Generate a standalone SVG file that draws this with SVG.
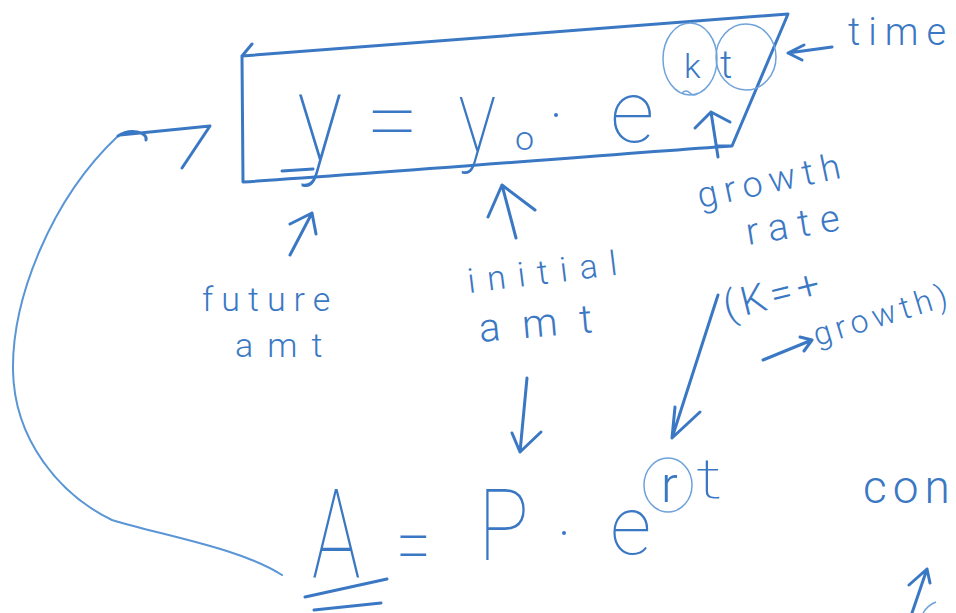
<svg xmlns="http://www.w3.org/2000/svg" width="956" height="613" viewBox="0 0 956 613">
<style>
.ink{fill:none;stroke:#3b78c4;stroke-width:3;stroke-linecap:round;stroke-linejoin:round}
.faint{fill:none;stroke:#6fa3da;stroke-width:1.5}
.curve{fill:none;stroke:#5a95d5;stroke-width:2;stroke-linecap:round}
.t{font-family:Roboto,"DejaVu Sans","Liberation Sans",sans-serif;font-weight:300;fill:#3b78c4}
.big{font-weight:100}
</style>
<rect width="956" height="613" fill="#ffffff"/>

<g id="formula-box">
  <path class="ink" d="M242,56 L788,14 L732,146 L716,146 M732,146 C600,155 400,172 243,182 L242,56 M242,56 L252,44"/>
  <text class="t big" font-size="95" transform="translate(297,160) scale(1,1.3)">y</text>
  <path class="ink" d="M282,171 L313,169"/>
  <text class="t big" font-size="95" x="366" y="152">=</text>
  <text class="t big" font-size="80" transform="translate(458,152) scale(1,1.3)">y</text>
  <text class="t" font-size="34" x="515" y="150">o</text>
  <circle cx="556" cy="115" r="2" fill="#3b78c4"/>
  <text class="t big" font-size="88" x="610" y="142">e</text>
  <text class="t" font-size="34" x="684" y="78">k</text>
  <text class="t" font-size="38" x="720" y="78">t</text>
  <ellipse class="faint" cx="690" cy="59" rx="27" ry="36"/>
  <ellipse class="faint" cx="746" cy="57" rx="30" ry="33"/>
  <path class="faint" d="M682,93 q4,-4 8,0 t8,0"/>
</g>

<g id="label-time">
  <text class="t" font-size="38" letter-spacing="8" x="848" y="45">time</text>
</g>

<g id="label-growth-rate">
  <text class="t" font-size="36" letter-spacing="7" transform="translate(700,208) rotate(-12)">growth</text>
  <text class="t" font-size="38" letter-spacing="10" transform="translate(748,245) rotate(-9)">rate</text>
  <text class="t" font-size="40" letter-spacing="5" transform="translate(727,320) rotate(-14)">(K=+</text>
  <text class="t" font-size="32" letter-spacing="5" transform="translate(817,346) rotate(-17)">growth)</text>
</g>

<g id="label-future-amt">
  <text class="t" font-size="34" letter-spacing="8" x="202" y="311">future</text>
  <text class="t" font-size="34" letter-spacing="14" x="235" y="357">amt</text>
</g>

<g id="label-initial-amt">
  <text class="t" font-size="34" letter-spacing="12" transform="translate(469,293) rotate(-7)">initial</text>
  <text class="t" font-size="40" letter-spacing="22" transform="translate(480,342) rotate(-5)">amt</text>
</g>

<g id="formula-bottom">
  <text class="t big" font-size="125" transform="translate(312,577) scale(0.65,1)">A</text>
  <path class="ink" d="M305,597 L387,579 M314,610 L381,603"/>
  <text class="t big" font-size="90" transform="translate(396,575) scale(0.7,1)">=</text>
  <text class="t big" font-size="100" transform="translate(478,560) scale(0.85,1)">P</text>
  <circle cx="564" cy="533" r="2" fill="#3b78c4"/>
  <text class="t big" font-size="82" x="610" y="554">e</text>
  <text class="t" font-size="50" x="661" y="502">r</text>
  <ellipse class="faint" cx="668" cy="485" rx="24" ry="27"/>
  <text class="t big" font-size="56" transform="translate(696,498) scale(1.5,1)">t</text>
</g>

<g id="label-con">
  <text class="t" font-size="46" letter-spacing="6" x="863" y="503">con</text>
</g>

<g id="connectors">
  <path class="ink" d="M718,157 L711,112 M695,128 L711,112 L730,122"/>
  <path class="ink" d="M832,47 L788,53 M804,45 L788,53 L802,60"/>
  <path class="ink" d="M290,255 L312,213 M290,224 L312,213 L316,234"/>
  <path class="ink" d="M516,238 L502,185 M488,217 L502,185 L535,210"/>
  <path class="ink" d="M527,378 L520,452 M512,433 L520,452 L541,432"/>
  <path class="ink" d="M718,295 L672,438 M675,407 L672,438 L700,412"/>
  <path class="ink" d="M763,360 L812,340 M800,337 L812,340 L804,351"/>
  <path class="ink" d="M912,613 L927,569 M909,585 L927,569 L930,583"/>
  <path class="faint" d="M923,613 Q928,605 936,602"/>
  <path class="curve" d="M282,575 C240,548 160,535 112,520 C60,495 14,440 13,370 C12,300 50,200 118,136"/>
  <path class="ink" d="M120,135 L210,126 L182,168 M118,136 C130,128 148,132 146,140"/>
</g>
</svg>
